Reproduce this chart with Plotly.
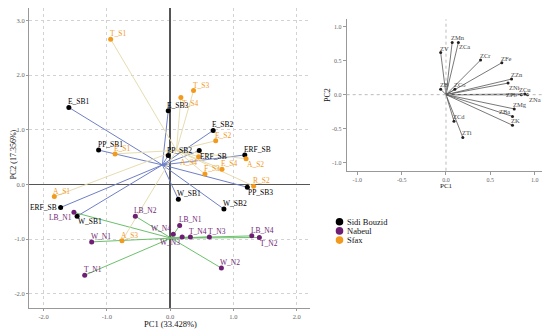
import numpy as np
import plotly.graph_objects as go

# ---------------- data ----------------
sb_labels = ["E_SB1", "PP_SB1", "E_SB3", "E_SB2", "PP_SB2", "ERF_SB", "ERF_SB",
             "ERF_SB", "W_SB1", "PP_SB3", "W_SB1", "W_SB2"]
sb_x = [-1.60, -1.13, -0.03, 0.68, -0.03, 0.46, 1.18, -1.73, -1.47, 1.22, 0.13, 0.85]
sb_y = [1.41, 0.63, 1.35, 0.99, 0.53, 0.62, 0.54, -0.42, -0.58, -0.05, -0.27, -0.45]

n_labels = ["LB_N1", "LB_N2", "W_N1", "T_N1", "LB_N1", "W_N4", "W_N3", "T_N4",
            "T_N3", "LB_N4", "T_N2", "W_N2"]
n_x = [-1.52, -0.55, -1.24, -1.35, 0.15, 0.05, 0.19, 0.32, 0.62, 1.29, 1.41, 0.81]
n_y = [-0.51, -0.58, -1.05, -1.66, -0.75, -0.91, -0.96, -0.96, -0.96, -0.94, -0.97, -1.53]

s_labels = ["T_S1", "E_S1", "T_S3", "T_S4", "E_S2", "A_S4", "E_S4", "F_S3",
            "A_S2", "R_S2", "A_S1", "A_S3"]
s_x = [-0.94, -0.87, 0.37, 0.17, 0.72, 0.45, 0.82, 0.55, 1.20, 1.32, -1.83, -0.76]
s_y = [2.66, 0.56, 1.72, 1.59, 0.80, 0.51, 0.28, 0.19, 0.47, -0.03, -0.22, -1.03]

ld_labels = ["ZMn", "ZCa", "ZV", "ZCr", "ZFe", "ZZn", "ZNi", "ZCu", "ZNa", "ZPb",
             "ZMg", "ZBa", "ZK", "ZCd", "ZTi", "ZB", "ZCo"]
ld_x = [0.07, 0.14, -0.06, 0.39, 0.63, 0.74, 0.70, 0.89, 0.92, 0.85,
        0.77, 0.75, 0.75, 0.09, 0.19, -0.06, 0.10]
ld_y = [0.77, 0.77, 0.62, 0.51, 0.47, 0.23, 0.17, 0.01, 0.0, 0.0,
        -0.21, -0.32, -0.45, -0.39, -0.63, 0.08, 0.08]

group_names = ["Sidi Bouzid", "Nabeul", "Sfax"]
left_ticks = [-2.0, -1.0, 0.0, 1.0, 2.0]
left_yticks = [-2.0, -1.0, 0.0, 1.0, 2.0, 3.0]
right_ticks = [-1.0, -0.5, 0.0, 0.5, 1.0]

# ---------------- layout helpers (page has an 8px body margin) ----------------
OFF = 8
W, H = 550 - OFF, 332 - OFF


def PX(px):
    return min(max((px - OFF) / W, 0.0), 1.0)


def PY(py):
    return min(max((H - (py - OFF)) / H, 0.0), 1.0)


# ---------------- styles ----------------
sb_pos = ["tr", "tr", "tr", "tr", "tr", "br", "tr", "ml", "br", "br", "tr", "tr"]
n_pos = ["bl", "tr", "tr", "tr", "tr", "tl", "bl", "tr", "tr", "tr", "br", "tr"]
s_pos = ["tr", "tr", "tr", "br", "tr", "bl", "tr", "tr", "br", "tr", "tr", "tr"]
ld_pos = ["tr", "br", "tr", "tr", "tr", "tr", "br", "tc", "br", "ml", "tr", "tl",
          "tr", "tr", "tr", "tr", "tr"]

POS = {
    "tr": dict(xanchor="left", yanchor="bottom", xshift=-2, yshift=0),
    "br": dict(xanchor="left", yanchor="top", xshift=0, yshift=0),
    "tl": dict(xanchor="right", yanchor="bottom", xshift=-1, yshift=0),
    "bl": dict(xanchor="right", yanchor="top", xshift=-1, yshift=0),
    "ml": dict(xanchor="right", yanchor="middle", xshift=-3, yshift=0),
    "tc": dict(xanchor="center", yanchor="bottom", xshift=0, yshift=0),
}

SERIF = "Liberation Serif"
colors = ["#000000", "#6e1f73", "#f29a1d"]
line_colors = ["#6f7fc6", "#6cc06c", "#e6ddb0"]
groups = [
    (sb_labels, sb_x, sb_y, sb_pos),
    (n_labels, n_x, n_y, n_pos),
    (s_labels, s_x, s_y, s_pos),
]

fig = go.Figure()
annotations = []

# spokes from group centroid
for (labs, xs, ys, pos), lc in zip(groups, line_colors):
    cx, cy = float(np.mean(xs)), float(np.mean(ys))
    lx, ly = [], []
    for x, y in zip(xs, ys):
        lx += [cx, x, None]
        ly += [cy, y, None]
    fig.add_trace(go.Scatter(x=lx, y=ly, mode="lines", line=dict(color=lc, width=1),
                             showlegend=False, hoverinfo="skip", xaxis="x", yaxis="y"))

for (labs, xs, ys, pos), mc, name in zip(groups, colors, group_names):
    fig.add_trace(go.Scatter(x=xs, y=ys, mode="markers", name=name,
                             marker=dict(color=mc, size=5), showlegend=False,
                             xaxis="x", yaxis="y"))
    for lab, x, y, p in zip(labs, xs, ys, pos):
        annotations.append(dict(x=x, y=y, xref="x", yref="y", text=lab, showarrow=False,
                                font=dict(family=SERIF, size=7.5, color=mc),
                                borderpad=0, **POS[p]))

# loadings
vx, vy = [], []
for x, y in zip(ld_x, ld_y):
    vx += [0, x, None]
    vy += [0, y, None]
fig.add_trace(go.Scatter(x=vx, y=vy, mode="lines", line=dict(color="#555555", width=0.8),
                         showlegend=False, hoverinfo="skip", xaxis="x2", yaxis="y2"))
fig.add_trace(go.Scatter(x=ld_x, y=ld_y, mode="markers",
                         marker=dict(color="#222222", size=3), showlegend=False,
                         xaxis="x2", yaxis="y2"))
for lab, x, y, p in zip(ld_labels, ld_x, ld_y, ld_pos):
    annotations.append(dict(x=x, y=y, xref="x2", yref="y2", text=lab, showarrow=False,
                            font=dict(family=SERIF, size=6.5, color="#444444"),
                            borderpad=0, **POS[p]))

# axis titles
annotations += [
    dict(x=PX(170), y=PY(324), xref="paper", yref="paper", showarrow=False,
         text="PC1 (33.428%)", font=dict(family=SERIF, size=8.5, color="#111111"),
         xanchor="center", yanchor="middle"),
    dict(x=PX(12.5), y=PY(155), xref="paper", yref="paper", showarrow=False,
         text="PC2 (17.356%)", textangle=-90, font=dict(family=SERIF, size=8, color="#111111"),
         xanchor="center", yanchor="middle"),
    dict(x=PX(446), y=PY(186), xref="paper", yref="paper", showarrow=False,
         text="PC1", font=dict(family=SERIF, size=7, color="#111111"),
         xanchor="center", yanchor="middle"),
    dict(x=PX(328), y=PY(95), xref="paper", yref="paper", showarrow=False,
         text="PC2", textangle=-90, font=dict(family=SERIF, size=8, color="#111111"),
         xanchor="center", yanchor="middle"),
]

# manual legend
shapes = [
    dict(type="line", xref="x2", yref="y2 domain", x0=0, x1=0, y0=0, y1=1,
         line=dict(color="#bbbbbb", width=1, dash="dot")),
    dict(type="line", xref="x2 domain", yref="y2", x0=0, x1=1, y0=0, y1=0,
         line=dict(color="#bbbbbb", width=1, dash="dot")),
]
for i, (name, c) in enumerate(zip(group_names, colors)):
    py = 221.7 + i * 9.2
    px = 339.5
    r = 3.8
    shapes.append(dict(type="circle", xref="paper", yref="paper",
                       x0=PX(px - r), x1=PX(px + r),
                       y0=PY(py + r), y1=PY(py - r),
                       fillcolor=c, line=dict(color=c, width=0)))
    annotations.append(dict(x=PX(px + 5), y=PY(py), xref="paper", yref="paper",
                            text=name, showarrow=False, xanchor="left", yanchor="middle",
                            font=dict(family=SERIF, size=8.5, color="#111111")))

tickfont = dict(family=SERIF, size=6.5, color="#666666")
fig.update_layout(
    width=W, height=H,
    margin=dict(l=0, r=0, t=0, b=0),
    paper_bgcolor="white", plot_bgcolor="white",
    showlegend=False,
    xaxis=dict(domain=[PX(29), PX(310)], range=[-2.23, 2.21],
               tickvals=left_ticks, ticktext=[f"{v:.1f}" for v in left_ticks],
               showgrid=True, gridcolor="#d2d2d2", griddash="dot", gridwidth=1,
               zeroline=True, zerolinecolor="#555555", zerolinewidth=2,
               showline=True, linecolor="#999999", linewidth=1,
               ticks="outside", ticklen=2, tickcolor="#999999", tickfont=tickfont),
    yaxis=dict(domain=[PY(308), PY(8)], range=[-2.26, 3.23],
               tickvals=left_yticks, ticktext=[f"{v:.1f}" for v in left_yticks],
               showgrid=True, gridcolor="#d2d2d2", griddash="dot", gridwidth=1,
               zeroline=True, zerolinecolor="#555555", zerolinewidth=1,
               showline=True, linecolor="#999999", linewidth=1,
               ticks="outside", ticklen=2, tickcolor="#999999", tickfont=tickfont),
    xaxis2=dict(domain=[PX(346.7), PX(546.7)], range=[-1.12, 1.136], anchor="y2",
                tickvals=right_ticks, ticktext=[f"{v:.1f}" for v in right_ticks],
                showgrid=False, zeroline=False,
                showline=True, linecolor="#999999", linewidth=1,
                ticks="outside", ticklen=3, tickcolor="#999999",
                tickfont=dict(family=SERIF, size=6, color="#666666")),
    yaxis2=dict(domain=[PY(170.7), PY(19.3)], range=[-1.12, 1.11],
                anchor="x2",
                tickvals=right_ticks, ticktext=[f"{v:.1f}" for v in right_ticks],
                showgrid=False, zeroline=False,
                showline=True, linecolor="#999999", linewidth=1,
                ticks="outside", ticklen=3, tickcolor="#999999",
                tickfont=dict(family=SERIF, size=6, color="#666666")),
    annotations=annotations,
    shapes=shapes,
)

fig.write_html("out.html")
